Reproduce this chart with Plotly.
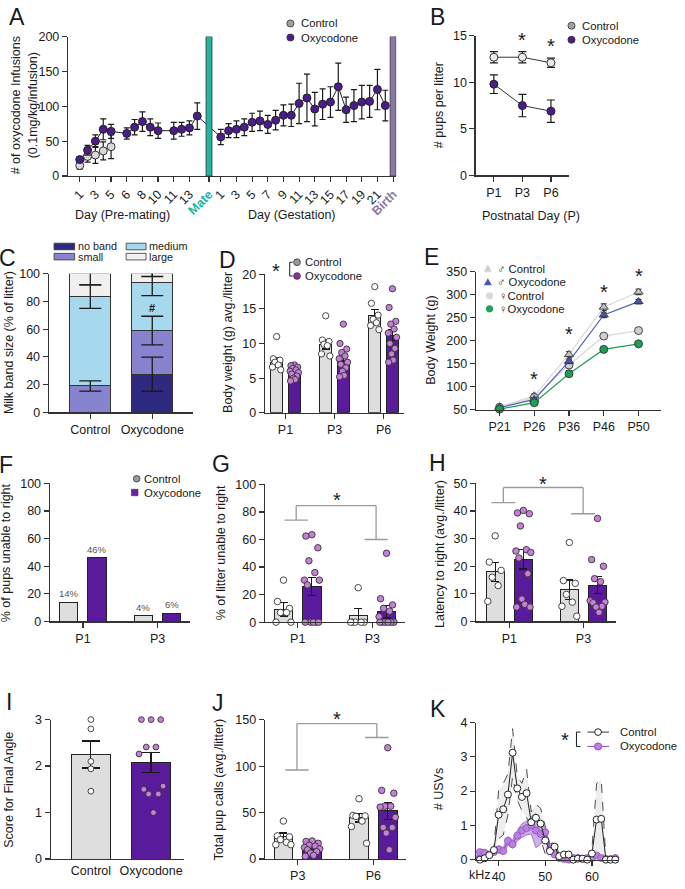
import plotly.graph_objects as go

W, H = 685, 889
FONT = "Liberation Sans, Arial, Helvetica, sans-serif"
INK = "#1a1a1a"
AXC = "#333333"
CTRL_BAR = "#DEDEDE"
OXY_BAR = "#5A1A9C"
OXY_DOT = "#C680D8"
OXY_DARK = "#4B1C8C"

# ===================== DATA =====================
# A - self-administration
pre_days = [1, 2, 3, 4, 5, 6, 7, 8, 9, 10, 11, 12, 13, 14]
pre_session = [1, 2, 3, 4, 5, 7, 8, 9, 10, 11, 13, 14, 15, 16]
pre_tick_days = [1, 3, 5, 6, 8, 10, 11, 13]
pre_ctrl = [15, 28, 30, 36, 42]
pre_ctrl_err = [5, 8, 12, 13, 17]
pre_oxy = [23.5, 37, 50, 67, 64, 61, 70, 78, 70, 65, 65, 67, 69, 86]
pre_oxy_err = [4, 7, 9, 15, 10, 8, 11, 14, 12, 11, 12, 10, 10, 19]
gest_days = [1, 2, 3, 4, 5, 6, 7, 8, 9, 10, 11, 12, 13, 14, 15, 16, 17, 18, 19, 20, 21, 22]
gest_session = [19, 20, 21, 22, 23, 24, 25, 26, 27, 28, 29, 30, 31, 32, 33, 34, 35, 36, 37, 38, 39, 40]
gest_tick_days = [1, 3, 5, 7, 9, 11, 13, 15, 17, 19, 21]
gest_oxy = [56, 65, 67, 70, 77, 79, 74, 80, 87, 87, 104, 112, 96, 103, 106, 128, 95, 101, 106, 107, 124, 101]
gest_oxy_err = [11, 10, 12, 12, 13, 14, 13, 14, 15, 16, 29, 34, 24, 22, 22, 34, 18, 23, 24, 23, 29, 22]
mate_session = 17.5
birth_session = 41
event_height = 200

# B - pups per litter
b_days = ["P1", "P3", "P6"]
b_ctrl = [12.7, 12.7, 12.1]
b_ctrl_err = [0.6, 0.6, 0.5]
b_oxy = [9.8, 7.5, 6.9]
b_oxy_err = [1.0, 1.2, 1.2]

# C - milk band
c_groups = ["Control", "Oxycodone"]
c_names = ["no band", "small", "medium", "large"]
c_nob = [0, 27.5]
c_small = [19, 31.5]
c_medium = [64.5, 34.5]
c_large = [16.5, 6.5]
c_nob_err = [0, 12.3]
c_small_err = [3.7, 10.3]
c_medium_err = [8.5, 9.3]
c_large_err = [8, 2]

# D - body weight pups
d_days = ["P1", "P3", "P6"]
d_ctrl_mean = [7.3, 9.9, 14.1]
d_ctrl_err = [0.6, 0.7, 0.8]
d_oxy_mean = [5.7, 7.6, 11.2]
d_oxy_err = [0.3, 0.6, 0.8]
d_ctrl_pts = [[11.0, 7.8, 7.6, 7.3, 6.9, 6.6, 6.2],
              [14.0, 10.5, 10.3, 9.9, 9.7, 8.5, 8.2],
              [18.2, 15.8, 14.1, 13.5, 13.0, 12.6, 12.0]]
d_oxy_pts = [[6.9, 6.8, 6.6, 6.4, 6.2, 6.0, 5.8, 5.6, 5.3, 5.0, 4.8, 4.6],
             [12.8, 10.0, 9.2, 8.7, 8.2, 7.8, 7.3, 7.0, 6.5, 6.0, 5.4, 5.2],
             [17.9, 15.2, 13.2, 12.8, 12.1, 11.5, 10.9, 10.0, 9.3, 8.5, 7.6, 7.3]]

# E - body weight adolescence
e_days = ["P21", "P26", "P36", "P46", "P50"]
e_m_ctrl = [56, 80, 170, 273, 306]
e_m_ctrl_err = [3, 4, 6, 7, 6]
e_m_oxy = [54, 72, 155, 256, 285]
e_m_oxy_err = [3, 4, 5, 6, 5]
e_f_ctrl = [55, 76, 147, 210, 222]
e_f_ctrl_err = [2, 3, 4, 4, 4]
e_f_oxy = [51, 65, 128, 181, 193]
e_f_oxy_err = [2, 3, 4, 4, 4]
e_star_days = [1, 2, 3, 4]
e_star_level = [116, 215, 307, 341]

# F - % pups unable to right
f_days = ["P1", "P3"]
f_ctrl = [14, 4]
f_oxy = [46, 6]

# G - % of litter unable to right
g_days = ["P1", "P3"]
g_ctrl_mean = [9.5, 5]
g_ctrl_err = [5, 5]
g_oxy_mean = [26, 7.5]
g_oxy_err = [6.5, 4.5]
g_ctrl_pts = [[30.5, 15, 10, 7, 7, 0, 0], [25, 0, 0, 0, 0, 0]]
g_oxy_pts = [[63.5, 62.5, 54, 44.5, 36, 30.5, 30.5, 27, 0, 0, 0, 0, 0],
             [50, 17, 12.5, 10, 8, 4, 0, 0, 0, 0, 0, 0]]

# H - latency to right
h_days = ["P1", "P3"]
h_ctrl_mean = [18, 11.5]
h_ctrl_err = [3.4, 3.5]
h_oxy_mean = [22.5, 13.2]
h_oxy_err = [3.5, 3.2]
h_ctrl_pts = [[31, 21.5, 18.5, 16, 13, 7.3], [28.6, 14.8, 13.8, 9.8, 7, 5.5, 1.9]]
h_oxy_pts = [[40.2, 39.3, 39, 34.6, 26, 25.5, 25, 23, 17.3, 8.1, 6.2, 5.2, 5.2],
             [37.3, 22.4, 20, 15.5, 14.4, 7.5, 7, 6.8, 5.5, 5.2, 3.3]]

# I - final angle score
i_groups = ["Control", "Oxycodone"]
i_mean = [2.25, 2.08]
i_err = [0.29, 0.22]
i_ctrl_pts = [3.0, 2.8, 2.1, 1.94, 1.46]
i_oxy_pts = [3, 3, 3, 2.41, 2.41, 2.26, 1.57, 1.5, 1.4, 1.4, 1.0]

# J - total pup calls
j_days = ["P3", "P6"]
j_ctrl_mean = [24, 44.5]
j_ctrl_err = [4, 4.5]
j_oxy_mean = [11, 52]
j_oxy_err = [2.2, 9]
j_ctrl_pts = [[41, 25, 24, 21, 18, 15.5, 15.5], [65, 47, 46.5, 46, 41, 35, 17]]
j_oxy_pts = [[19.5, 19, 17, 15, 14, 12.5, 11, 10, 8, 6.5, 4, 3],
             [120, 74, 71, 57, 57, 56, 45, 34, 34, 28, 10]]

# K - USV frequency distribution
k_khz = [35, 36, 37, 38, 39, 40, 41, 42, 43, 44, 45, 46, 47, 48, 49, 50,
         51, 52, 53, 54, 55, 56, 57, 58, 59, 60, 61, 62, 63, 64, 65]
k_ctrl = [0, 0, 0.04, 0.13, 0.28, 1.31, 1.47, 1.9, 3.12, 2.08, 1.83, 1.94, 1.09, 1.22, 1.05, 0.56,
          0.25, 0.38, 0.1, 0.15, 0.15, 0, 0.03, 0.03, 0, 0.18, 1.17, 1.19, 0, 0, 0]
k_ctrl_sem = [0, 0, 0.02, 0.05, 0.08, 0.7, 0.75, 0.6, 0.7, 0.35, 0.4, 0.7, 0.3, 0.4, 0.45, 0.4,
              0.2, 0.15, 0.05, 0.05, 0.05, 0.02, 0.02, 0.02, 0.02, 0.12, 1.05, 1.15, 0, 0, 0]
k_oxy = [0.02, 0.22, 0.2, 0.15, 0.22, 0.3, 0.25, 0.55, 0.45, 0.7, 0.85, 0.92, 1.0, 0.85, 0.75, 0.8,
         0.3, 0.15, 0.05, 0.02, 0.0, 0.05, 0.05, 0.02, 0.05, 0.05, 0.12, 0.05, 0.02, 0.02, 0.05]
k_oxy_sem = [0.02, 0.08, 0.08, 0.06, 0.08, 0.1, 0.1, 0.12, 0.12, 0.15, 0.2, 0.2, 0.25, 0.5, 0.3, 0.15,
             0.1, 0.05, 0.03, 0.02, 0.02, 0.03, 0.03, 0.02, 0.03, 0.03, 0.05, 0.03, 0.02, 0.02, 0.03]

# ===================== HELPERS =====================
fig = go.Figure()
annotations = []
shapes = []
layout = dict(width=W, height=H, margin=dict(l=0, r=0, t=0, b=0),
              paper_bgcolor="white", plot_bgcolor="white", showlegend=False,
              barmode="stack", font=dict(family=FONT, size=12, color=INK))

AX = dict(showline=True, linecolor=AXC, linewidth=1.2, ticks="outside", ticklen=5,
          tickwidth=1.2, tickcolor=AXC, showgrid=False, zeroline=False,
          tickfont=dict(family=FONT, size=12.5, color=INK), fixedrange=True)
LEG = 11.3


def PX(x):
    return x / W


def PY(y):
    return 1 - y / H


def set_axes(n, xpx, ypx, xr, yr, xkw=None, ykw=None):
    s = "" if n == 1 else str(n)
    xa = dict(AX, domain=[PX(xpx[0]), PX(xpx[1])], range=xr, anchor="y" + s)
    ya = dict(AX, domain=[PY(ypx[1]), PY(ypx[0])], range=yr, anchor="x" + s)
    xa.update(xkw or {})
    ya.update(ykw or {})
    layout["xaxis" + s] = xa
    layout["yaxis" + s] = ya
    return "x" + s, "y" + s


def T(x, y, s, size=12, xanchor="left", color=INK, angle=0):
    annotations.append(dict(x=PX(x), y=PY(y), xref="paper", yref="paper", text=s,
                            showarrow=False, xanchor=xanchor, yanchor="middle",
                            textangle=angle, font=dict(family=FONT, size=size, color=color)))


def TA(xr, yr, x, y, s, size=12, color=INK, yanchor="middle", yshift=0):
    annotations.append(dict(x=x, y=y, xref=xr, yref=yr, text=s, showarrow=False,
                            xanchor="center", yanchor=yanchor, yshift=yshift,
                            font=dict(family=FONT, size=size, color=color)))


def circ(cx, cy, r, fill, line=AXC, lw=0.8):
    shapes.append(dict(type="circle", xref="paper", yref="paper",
                       x0=PX(cx - r), x1=PX(cx + r), y0=PY(cy + r), y1=PY(cy - r),
                       fillcolor=fill, line=dict(color=line, width=lw)))


def rect(x0, y0, x1, y1, fill, line=AXC, lw=0.8):
    shapes.append(dict(type="rect", xref="paper", yref="paper",
                       x0=PX(x0), x1=PX(x1), y0=PY(y1), y1=PY(y0),
                       fillcolor=fill, line=dict(color=line, width=lw)))


def seg(x0, y0, x1, y1, color=INK, width=1, dash="solid"):
    shapes.append(dict(type="line", xref="paper", yref="paper",
                       x0=PX(x0), x1=PX(x1), y0=PY(y0), y1=PY(y1),
                       line=dict(color=color, width=width, dash=dash)))


def tri(cx, cy, r, fill, line="rgba(0,0,0,0)"):
    path = "M {:.5f},{:.5f} L {:.5f},{:.5f} L {:.5f},{:.5f} Z".format(
        PX(cx), PY(cy - r), PX(cx - r), PY(cy + r * 0.8), PX(cx + r), PY(cy + r * 0.8))
    shapes.append(dict(type="path", xref="paper", yref="paper", path=path,
                       fillcolor=fill, line=dict(color=line, width=0.6)))


def bracket(xr, yr, xL, xR, yL, yTop, yR, half=0.155, color="#9A9A9A"):
    for (a, b, c, d) in [(xL - half, yL, xL + half, yL), (xL, yL, xL, yTop),
                         (xL, yTop, xR, yTop), (xR, yTop, xR, yR),
                         (xR - half, yR, xR + half, yR)]:
        shapes.append(dict(type="line", xref=xr, yref=yr, x0=a, y0=b, x1=c, y1=d,
                           line=dict(color=color, width=1.3)))


PATTERN = [0, -0.8, 0.8, -0.4, 0.4, -1.0, 1.0, -0.6, 0.6, -0.2, 0.2, -0.9, 0.9]


def offsets(n, half):
    return [half * PATTERN[i % len(PATTERN)] for i in range(n)]


def err(arr, width=4, thick=1.2):
    return dict(type="data", array=arr, visible=True, color=INK, thickness=thick, width=width)


def bar_panel(xr, yr, ctrl_mean, ctrl_err, oxy_mean, oxy_err, ctrl_pts, oxy_pts,
              off=0.19, bw=0.245, half=0.085, msize=6.5):
    n = len(ctrl_mean)
    fig.add_trace(go.Bar(x=[i - off for i in range(n)], y=ctrl_mean, width=bw,
                         marker=dict(color=CTRL_BAR, line=dict(color="#222", width=1)),
                         error_y=err(ctrl_err), xaxis=xr, yaxis=yr))
    fig.add_trace(go.Bar(x=[i + off for i in range(n)], y=oxy_mean, width=bw,
                         marker=dict(color=OXY_BAR, line=dict(color="#222", width=1)),
                         error_y=err(oxy_err), xaxis=xr, yaxis=yr))
    for i in range(n):
        for pts, sign, fill in [(ctrl_pts[i], -1, "white"), (oxy_pts[i], 1, OXY_DOT)]:
            o = offsets(len(pts), half)
            fig.add_trace(go.Scatter(x=[i + sign * off + d for d in o], y=pts, mode="markers",
                                     marker=dict(size=msize, color=fill,
                                                 line=dict(color="#333", width=0.9)),
                                     cliponaxis=False, xaxis=xr, yaxis=yr))


# ===================== PANEL A =====================
tv = [pre_session[pre_days.index(d)] for d in pre_tick_days] + [mate_session] + \
     [gest_session[gest_days.index(d)] for d in gest_tick_days] + [birth_session]
tt = [str(d) for d in pre_tick_days] + ["<b><span style='color:#22B5A3'>Mate</span></b>"] + \
     [str(d) for d in gest_tick_days] + ["<b><span style='color:#8C78A8'>Birth</span></b>"]
xa, ya = set_axes(1, (68.3, 398), (30, 171.7), [-0.5, 41.4], [0, 200],
                  xkw=dict(tickvals=tv, ticktext=tt, tickangle=-45),
                  ykw=dict(tickvals=[0, 50, 100, 150, 200]))
fig.add_trace(go.Scatter(x=pre_session[:len(pre_ctrl)], y=pre_ctrl, mode="lines+markers",
                         line=dict(color="#555", width=1),
                         marker=dict(size=8, color="#D9D9D9", line=dict(color="#333", width=1)),
                         error_y=err(pre_ctrl_err, 3), cliponaxis=False, xaxis=xa, yaxis=ya))
fig.add_trace(go.Scatter(x=pre_session + gest_session, y=pre_oxy + gest_oxy, mode="lines+markers",
                         line=dict(color="#222", width=1),
                         marker=dict(size=8, color=OXY_DARK, line=dict(color="#222", width=1)),
                         error_y=err(pre_oxy_err + gest_oxy_err, 3), cliponaxis=False,
                         xaxis=xa, yaxis=ya))
for xs, col in [(mate_session, "#22B5A3"), (birth_session, "#8C78A8")]:
    shapes.append(dict(type="rect", xref=xa, yref=ya, x0=xs - 0.38, x1=xs + 0.38, y0=0,
                       y1=event_height, fillcolor=col, line=dict(color="#333", width=0.8),
                       layer="above"))
T(25, 100, "# of oxycodone Infusions<br>(0.1mg/kg/infusion)", size=12.5, xanchor="center", angle=-90)
T(123, 211, "Day (Pre-mating)", size=12.5, xanchor="center")
T(293, 211, "Day (Gestation)", size=12.5, xanchor="center")
circ(291.7, 16.7, 3.6, "#A0A0A0")
T(300.5, 16.7, "Control", size=LEG)
circ(291.7, 31, 3.6, OXY_DARK)
T(300.5, 31, "Oxycodone", size=LEG)

# ===================== PANEL B =====================
xb, yb = set_axes(2, (477.7, 571.7), (29.3, 171), [-0.64, 2.64], [0, 15],
                  xkw=dict(tickvals=[0, 1, 2], ticktext=b_days),
                  ykw=dict(tickvals=[0, 5, 10, 15]))
fig.add_trace(go.Scatter(x=[0, 1, 2], y=b_ctrl, mode="lines+markers", line=dict(color="#333", width=1),
                         marker=dict(size=8, color="#EAEAEA", line=dict(color="#333", width=1)),
                         error_y=err(b_ctrl_err, 4), cliponaxis=False, xaxis=xb, yaxis=yb))
fig.add_trace(go.Scatter(x=[0, 1, 2], y=b_oxy, mode="lines+markers", line=dict(color="#333", width=1),
                         marker=dict(size=8, color=OXY_DARK, line=dict(color="#222", width=1)),
                         error_y=err(b_oxy_err, 4), cliponaxis=False, xaxis=xb, yaxis=yb))
TA(xb, yb, 1, 14.6, "*", size=20)
TA(xb, yb, 2, 13.9, "*", size=20)
T(441.7, 100, "# pups per litter", size=12.5, xanchor="center", angle=-90)
T(533, 212, "Postnatal Day (P)", size=12.5, xanchor="center")
circ(574, 19, 3.6, "#A0A0A0")
T(582.5, 19, "Control", size=LEG)
circ(574, 33.3, 3.6, OXY_DARK)
T(582.5, 33.3, "Oxycodone", size=LEG)

# ===================== PANEL C =====================
xc, yc = set_axes(3, (49, 194), (271, 411.8), [-0.67, 1.66], [0, 100],
                  xkw=dict(tickvals=[0, 1], ticktext=c_groups),
                  ykw=dict(tickvals=[0, 20, 40, 60, 80, 100]))
c_cols = ["#2D2A80", "#8883CE", "#A6D9EE", "#F0F0F0"]
c_vals = [c_nob, c_small, c_medium, c_large]
c_errs = [c_nob_err, c_small_err, c_medium_err, c_large_err]
for vals, col in zip(c_vals, c_cols):
    fig.add_trace(go.Bar(x=[0, 1], y=vals, width=0.66,
                         marker=dict(color=col, line=dict(color="#333", width=1)),
                         xaxis=xc, yaxis=yc))
cum = [0, 0]
for vals, e in zip(c_vals, c_errs):
    cum = [cum[k] + vals[k] for k in range(2)]
    xs = [k for k in range(2) if vals[k] > 0]
    fig.add_trace(go.Scatter(x=xs, y=[cum[k] for k in xs], mode="markers",
                             marker=dict(size=1, color="rgba(0,0,0,0)"),
                             error_y=dict(type="data", array=[e[k] for k in xs], visible=True,
                                          color=INK, thickness=1.3, width=11),
                             xaxis=xc, yaxis=yc))
TA(xc, yc, 1, 75.5, "<b>#</b>", size=11)
T(8.5, 341, "Milk band size (% of litter)", size=12.5, xanchor="center", angle=-90)
rect(54.3, 240, 75, 246.7, c_cols[0])
T(76, 243.3, c_names[0], size=10.8)
rect(54.3, 250.3, 75, 257, c_cols[1])
T(76, 253.6, c_names[1], size=10.8)
rect(126.7, 240, 146.7, 246.7, c_cols[2])
T(148, 243.3, c_names[2], size=10.8)
rect(126.7, 250.3, 146.7, 257, c_cols[3])
T(148, 253.6, c_names[3], size=10.8)

# ===================== PANEL D =====================
xd, yd = set_axes(4, (266, 406), (271.5, 412.3), [-0.42, 2.42], [0, 20],
                  xkw=dict(tickvals=[0, 1, 2], ticktext=d_days),
                  ykw=dict(tickvals=[0, 5, 10, 15, 20]))
bar_panel(xd, yd, d_ctrl_mean, d_ctrl_err, d_oxy_mean, d_oxy_err, d_ctrl_pts, d_oxy_pts,
          off=0.18, bw=0.245, half=0.085, msize=6.3)
T(228.3, 341, "Body weight (g) avg./litter", size=12.5, xanchor="center", angle=-90)
T(277, 268, "*", size=20, xanchor="center")
seg(291, 259.3, 291, 273.3, INK, 1)
seg(291, 259.3, 294, 259.3, INK, 1)
seg(291, 273.3, 294, 273.3, INK, 1)
circ(298.3, 259.3, 3.4, "#9A9A9A")
T(304, 259.3, "Control", size=LEG)
circ(298.3, 273.3, 3.4, "#8B2FA8")
T(304, 273.3, "Oxycodone", size=LEG)

# ===================== PANEL E =====================
xe, ye = set_axes(5, (478, 664), (269, 409), [-0.68, 4.65], [50, 350],
                  xkw=dict(tickvals=[0, 1, 2, 3, 4], ticktext=e_days),
                  ykw=dict(tickvals=[50, 100, 150, 200, 250, 300, 350]))
e_series = [
    (e_m_ctrl, e_m_ctrl_err, "#D8D8D8", "#C4C4C4", "triangle-up"),
    (e_f_ctrl, e_f_ctrl_err, "#D8D8D8", "#CFCFCF", "circle"),
    (e_m_oxy, e_m_oxy_err, "#5560B8", "#4A55B0", "triangle-up"),
    (e_f_oxy, e_f_oxy_err, "#1E9E55", "#1E9E55", "circle"),
]
for vals, e, lc, fc, sym in e_series:
    fig.add_trace(go.Scatter(x=[0, 1, 2, 3, 4], y=vals, mode="lines+markers",
                             line=dict(color=lc, width=1.2),
                             marker=dict(size=8, symbol=sym, color=fc, line=dict(color="#333", width=0.9)),
                             error_y=err(e, 3, 1), cliponaxis=False, xaxis=xe, yaxis=ye))
for d, lv in zip(e_star_days, e_star_level):
    TA(xe, ye, d, lv, "*", size=20)
T(433, 339, "Body Weight (g)", size=12.5, xanchor="center", angle=-90)
tri(490, 265.7, 4, "#CFCFCF")
T(497, 265.7, "♂ Control", size=LEG)
tri(490, 279.5, 4, "#4A55B0")
T(497, 279.5, "♂ Oxycodone", size=LEG)
circ(491.7, 293.3, 3.6, "#DADADA", line="rgba(0,0,0,0)")
T(499, 293.3, "♀Control", size=LEG)
circ(491.7, 306.7, 3.6, "#1FA35A", line="rgba(0,0,0,0)")
T(499, 306.7, "♀Oxycodone", size=LEG)

# ===================== PANEL F =====================
xf, yf = set_axes(6, (50, 190.7), (484, 624.3), [-0.444, 1.432], [0, 100],
                  xkw=dict(tickvals=[0, 1], ticktext=f_days),
                  ykw=dict(tickvals=[0, 20, 40, 60, 80, 100]))
for vals, sign, col in [(f_ctrl, -1, CTRL_BAR), (f_oxy, 1, OXY_BAR)]:
    xs = [i + sign * 0.19 for i in range(len(vals))]
    fig.add_trace(go.Bar(x=xs, y=vals, width=0.245,
                         marker=dict(color=col, line=dict(color="#222", width=1)),
                         xaxis=xf, yaxis=yf))
    for xx, v in zip(xs, vals):
        TA(xf, yf, xx, v, "{}%".format(v), size=9.5, color="#555", yanchor="bottom", yshift=1)
T(6, 554, "% of pups unable to right", size=12.5, xanchor="center", angle=-90)
circ(137.3, 479.3, 3.3, "#9A9A9A")
T(142.7, 479.3, "Control", size=LEG)
rect(132, 490, 138.6, 496.6, "#6A22A0", line="#333", lw=0.6)
T(142.7, 493.3, "Oxycodone", size=LEG)

# ===================== PANEL G =====================
xg, yg = set_axes(7, (266, 406.7), (485, 625), [-0.44, 1.436], [0, 100],
                  xkw=dict(tickvals=[0, 1], ticktext=g_days),
                  ykw=dict(tickvals=[0, 20, 40, 60, 80, 100]))
bar_panel(xg, yg, g_ctrl_mean, g_ctrl_err, g_oxy_mean, g_oxy_err, g_ctrl_pts, g_oxy_pts,
          off=0.19, bw=0.245, half=0.1)
bracket(xg, yg, -0.02, 1.05, 74, 84.5, 60)
TA(xg, yg, 0.524, 89, "*", size=20)
T(222, 555, "% of litter unable to right", size=12.5, xanchor="center", angle=-90)

# ===================== PANEL H =====================
xh, yh = set_axes(8, (478.3, 619), (484, 624.3), [-0.446, 1.443], [0, 50],
                  xkw=dict(tickvals=[0, 1], ticktext=h_days),
                  ykw=dict(tickvals=[0, 10, 20, 30, 40, 50]))
bar_panel(xh, yh, h_ctrl_mean, h_ctrl_err, h_oxy_mean, h_oxy_err, h_ctrl_pts, h_oxy_pts,
          off=0.19, bw=0.245, half=0.1)
bracket(xh, yh, -0.08, 0.996, 43, 48.5, 39, half=0.16)
T(545.7, 484.5, "*", size=20, xanchor="center")
T(441.7, 556, "Latency to right (avg./litter)", size=12.5, xanchor="center", angle=-90)

# ===================== PANEL I =====================
xi, yi = set_axes(9, (51, 185), (724, 865.7), [-0.666, 1.55], [0, 3],
                  xkw=dict(tickvals=[0, 1], ticktext=i_groups, ticks=""),
                  ykw=dict(tickvals=[0, 1, 2, 3]))
for k, (m, e, col) in enumerate(zip(i_mean, i_err, [CTRL_BAR, OXY_BAR])):
    fig.add_trace(go.Bar(x=[k], y=[m], width=0.65,
                         marker=dict(color=col, line=dict(color="#222", width=1)),
                         error_y=err([e], 9), xaxis=xi, yaxis=yi))
for k, (pts, fill) in enumerate([(i_ctrl_pts, "white"), (i_oxy_pts, OXY_DOT)]):
    o = offsets(len(pts), 0.2 if k else 0.0)
    fig.add_trace(go.Scatter(x=[k + d for d in o], y=pts, mode="markers",
                             marker=dict(size=5.8, color=fill, line=dict(color="#333", width=0.9)),
                             cliponaxis=False, xaxis=xi, yaxis=yi))
T(9.3, 795, "Score for Final Angle", size=12.5, xanchor="center", angle=-90)

# ===================== PANEL J =====================
xj, yj = set_axes(10, (266, 407.7), (724.3, 865.7), [-0.435, 1.43], [0, 150],
                  xkw=dict(tickvals=[0, 1], ticktext=j_days),
                  ykw=dict(tickvals=[0, 50, 100, 150]))
bar_panel(xj, yj, j_ctrl_mean, j_ctrl_err, j_oxy_mean, j_oxy_err, j_ctrl_pts, j_oxy_pts,
          off=0.19, bw=0.245, half=0.1)
bracket(xj, yj, -0.01, 1.046, 96, 146, 131)
T(338.3, 723.5, "*", size=20, xanchor="center")
T(220, 795, "Total pup calls (avg./litter)", size=12.5, xanchor="center", angle=-90)

# ===================== PANEL K =====================
xk, yk = set_axes(11, (478.3, 621.7), (727, 866.3), [35.2, 65.8], [0, 4],
                  xkw=dict(tickvals=[40, 50, 60]),
                  ykw=dict(tickvals=[0, 1, 2, 3, 4]))
c_up = [m + s for m, s in zip(k_ctrl, k_ctrl_sem)]
c_lo = [max(m - s, 0) for m, s in zip(k_ctrl, k_ctrl_sem)]
o_up = [m + s for m, s in zip(k_oxy, k_oxy_sem)]
o_lo = [max(m - s, 0) for m, s in zip(k_oxy, k_oxy_sem)]
fig.add_trace(go.Scatter(x=k_khz + k_khz[::-1], y=c_up + c_lo[::-1], fill="toself",
                         fillcolor="#EEEEEE", line=dict(width=0), mode="lines",
                         xaxis=xk, yaxis=yk))
for b in (c_up, c_lo):
    fig.add_trace(go.Scatter(x=k_khz, y=b, mode="lines", line=dict(color="#222", width=0.8, dash="dash"),
                             xaxis=xk, yaxis=yk))
fig.add_trace(go.Scatter(x=k_khz + k_khz[::-1], y=o_up + o_lo[::-1], fill="toself",
                         fillcolor="rgba(190,145,225,0.75)", line=dict(width=0), mode="lines",
                         xaxis=xk, yaxis=yk))
for b in (o_up, o_lo):
    fig.add_trace(go.Scatter(x=k_khz, y=b, mode="lines", line=dict(color="#9A5BC9", width=0.8),
                             xaxis=xk, yaxis=yk))
fig.add_trace(go.Scatter(x=k_khz, y=k_oxy, mode="lines+markers", line=dict(color="#8E4EC6", width=1.2),
                         marker=dict(size=7, color="#BB82DD", line=dict(color="#8E4EC6", width=0.8)),
                         cliponaxis=False, xaxis=xk, yaxis=yk))
fig.add_trace(go.Scatter(x=k_khz, y=k_ctrl, mode="lines+markers", line=dict(color="#222", width=1),
                         marker=dict(size=7, color="white", line=dict(color="#222", width=1)),
                         cliponaxis=False, xaxis=xk, yaxis=yk))
T(481.7, 881.7, "kHz", size=12.5, xanchor="center")
T(441.7, 795, "# USVs", size=12.5, xanchor="center", angle=-90)
T(567.7, 745, "*", size=20, xanchor="center")
seg(579, 736.7, 579, 751.3, INK, 1)
seg(579, 736.7, 583, 736.7, INK, 1)
seg(579, 751.3, 583, 751.3, INK, 1)
seg(590, 736.7, 611.7, 736.7, "#555", 1.2)
circ(600.7, 736.7, 3.4, "white", line="#222", lw=1)
T(620.5, 736.7, "Control", size=LEG)
seg(590, 751.3, 611.7, 751.3, "#9A5BC9", 1.2)
circ(600.7, 751.3, 3.6, "#BB82DD", line="#8E4EC6", lw=1)
T(620.5, 751.3, "Oxycodone", size=LEG)

# ===================== PANEL LETTERS =====================
for letter, cx, cy in [("A", 16.7, 10), ("B", 439, 10), ("C", 8, 255), ("D", 228.5, 257),
                       ("E", 433.5, 253.5), ("F", 6, 465), ("G", 222, 464), ("H", 439.5, 463),
                       ("I", 9.5, 706), ("J", 218.5, 707), ("K", 439.5, 713)]:
    T(cx, cy, letter, size=23, xanchor="center")

layout["annotations"] = annotations
layout["shapes"] = shapes
fig.update_layout(**layout)
fig.write_html("out.html",
               config={"displayModeBar": False, "staticPlot": True},
               post_script="document.body.style.margin='0px';"
                           "document.documentElement.style.margin='0px';"
                           "document.body.style.overflow='hidden';")
